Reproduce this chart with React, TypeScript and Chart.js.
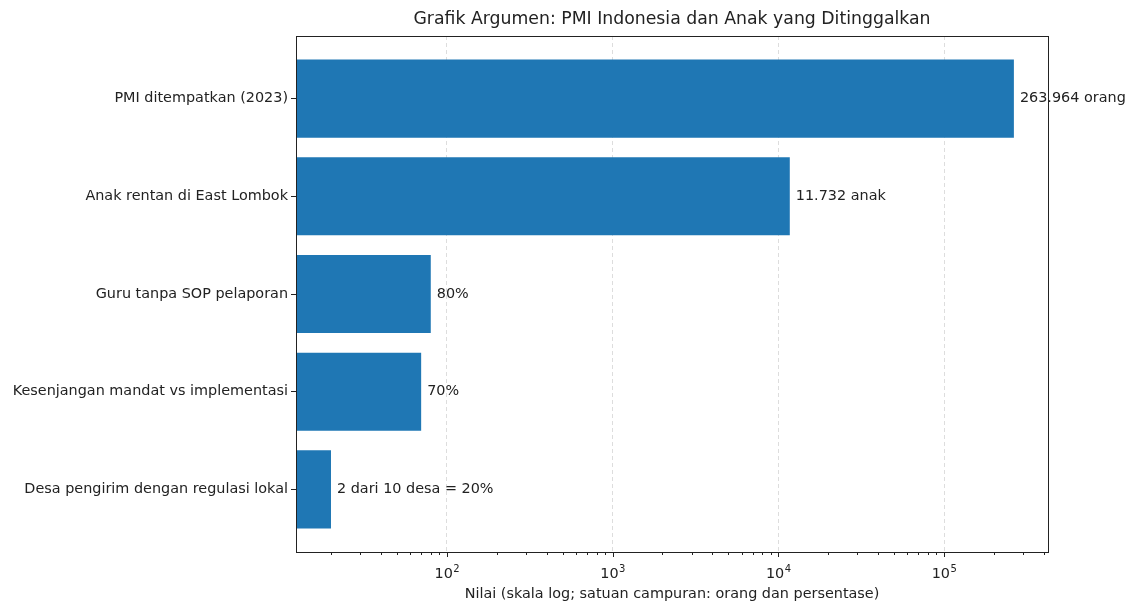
import React, { useEffect, useRef } from 'react';
import { Chart, registerables } from 'chart.js';

Chart.register(...registerables);

const categories = [
  'PMI ditempatkan (2023)',
  'Anak rentan di East Lombok',
  'Guru tanpa SOP pelaporan',
  'Kesenjangan mandat vs implementasi',
  'Desa pengirim dengan regulasi lokal',
];
const values = [263964, 11732, 80, 70, 20];
const valueLabels = ['263.964 orang', '11.732 anak', '80%', '70%', '2 dari 10 desa = 20%'];
const majorTicks = [100, 1000, 10000, 100000];
const majorExponents = ['2', '3', '4', '5'];
const minorTicks = [
  20, 30, 40, 50, 60, 70, 80, 90,
  200, 300, 400, 500, 600, 700, 800, 900,
  2000, 3000, 4000, 5000, 6000, 7000, 8000, 9000,
  20000, 30000, 40000, 50000, 60000, 70000, 80000, 90000,
  200000, 300000, 400000,
];
const titleText = 'Grafik Argumen: PMI Indonesia dan Anak yang Ditinggalkan';
const xTitle = 'Nilai (skala log; satuan campuran: orang dan persentase)';

const FONT = "'DejaVu Sans', sans-serif";
const TEXT = '#222';
const FS = 14.4;

export default function App() {
  const ref = useRef<HTMLCanvasElement | null>(null);
  useEffect(() => {
    if (!ref.current) return;
    const allTicks = [...majorTicks, ...minorTicks].sort((a, b) => a - b);
    const extras = {
      id: 'extras',
      afterDatasetsDraw(chart: any) {
        const ctx = chart.ctx;
        const meta = chart.getDatasetMeta(0);
        ctx.save();
        ctx.font = `${FS}px ${FONT}`;
        ctx.fillStyle = TEXT;
        ctx.textBaseline = 'middle';
        ctx.textAlign = 'left';
        meta.data.forEach((el: any, i: number) => {
          ctx.fillText(valueLabels[i], el.x + 6, el.y);
        });
        ctx.restore();
      },
      afterDraw(chart: any) {
        const ctx = chart.ctx;
        const a = chart.chartArea;
        const xs = chart.scales.x;
        ctx.save();
        ctx.strokeStyle = '#222';
        ctx.lineWidth = 1;
        ctx.strokeRect(Math.round(a.left) + 0.5, Math.round(a.top) + 0.5, Math.round(a.right - a.left), Math.round(a.bottom - a.top));
        allTicks.forEach((v) => {
          const px = Math.round(xs.getPixelForValue(v)) + 0.5;
          const len = majorTicks.includes(v) ? 5 : 3;
          ctx.beginPath();
          ctx.moveTo(px, Math.round(a.bottom));
          ctx.lineTo(px, Math.round(a.bottom) + len);
          ctx.stroke();
        });
        // major tick labels with superscript exponents
        ctx.fillStyle = TEXT;
        ctx.textAlign = 'left';
        ctx.textBaseline = 'alphabetic';
        majorTicks.forEach((v, i) => {
          const px = xs.getPixelForValue(v);
          ctx.font = `${FS}px ${FONT}`;
          const w = ctx.measureText('10').width;
          ctx.font = `10px ${FONT}`;
          const sw = ctx.measureText(majorExponents[i]).width;
          const x0 = px - (w + sw) / 2;
          const base = a.bottom + 26;
          ctx.font = `${FS}px ${FONT}`;
          ctx.fillText('10', x0, base);
          ctx.font = `10px ${FONT}`;
          ctx.fillText(majorExponents[i], x0 + w + 0.5, base - 6);
        });
        ctx.font = `17.3px ${FONT}`;
        ctx.fillStyle = TEXT;
        ctx.textAlign = 'center';
        ctx.textBaseline = 'middle';
        ctx.fillText(titleText, (a.left + a.right) / 2, 19.5);
        ctx.restore();
      },
    };
    const chart = new Chart(ref.current, {
      type: 'bar',
      data: {
        datasets: [
          {
            data: values.map((v, i) => ({ x: v, y: i })),
            backgroundColor: '#1f77b4',
            borderWidth: 0,
            barPercentage: 0.8,
            categoryPercentage: 1.0,
          },
        ],
      },
      options: {
        indexAxis: 'y',
        animation: false,
        responsive: false,
        layout: { padding: { top: 36, right: 81, left: 0, bottom: 0 } },
        plugins: { legend: { display: false }, tooltip: { enabled: false }, title: { display: false } },
        scales: {
          x: {
            type: 'logarithmic',
            min: 12.3,
            max: 424000,
            afterBuildTicks: (scale: any) => {
              scale.ticks = allTicks.map((v) => ({ value: v, major: majorTicks.includes(v) }));
            },
            afterFit: (scale: any) => {
              scale.height = 53;
            },
            grid: {
              drawTicks: false,
              color: (ctx: any) =>
                ctx.tick && majorTicks.includes(ctx.tick.value) ? '#dddddd' : 'rgba(0,0,0,0)',
              lineWidth: 1,
            },
            border: { display: true, color: '#222', dash: [4, 3] },
            ticks: {
              autoSkip: false,
              maxRotation: 0,
              padding: 12,
              color: TEXT,
              font: { family: FONT, size: FS },
              callback: () => '',
            },
            title: {
              display: true,
              text: xTitle,
              color: TEXT,
              font: { family: FONT, size: FS },
              padding: { top: 0, bottom: 2 },
            },
          },
          y: {
            type: 'linear',
            reverse: true,
            offset: false,
            min: -0.64,
            max: 4.64,
            afterBuildTicks: (scale: any) => {
              scale.ticks = categories.map((_, i) => ({ value: i }));
            },
            afterFit: (scale: any) => {
              scale.width = 296;
            },
            grid: {
              offset: false,
              drawOnChartArea: false,
              drawTicks: true,
              tickLength: 5,
              tickColor: '#222',
            },
            border: { display: true, color: '#222' },
            ticks: {
              autoSkip: false,
              padding: 3,
              color: TEXT,
              font: { family: FONT, size: FS },
              callback: (value: any) => categories[Number(value)] ?? '',
            },
          },
        },
      },
      plugins: [extras],
    } as any);
    return () => chart.destroy();
  }, []);
  return (
    <div style={{ position: 'absolute', left: 0, top: 0, width: 1129, height: 605, background: '#fff' }}>
      <canvas ref={ref} width={1129} height={605} style={{ display: 'block' }} />
    </div>
  );
}
